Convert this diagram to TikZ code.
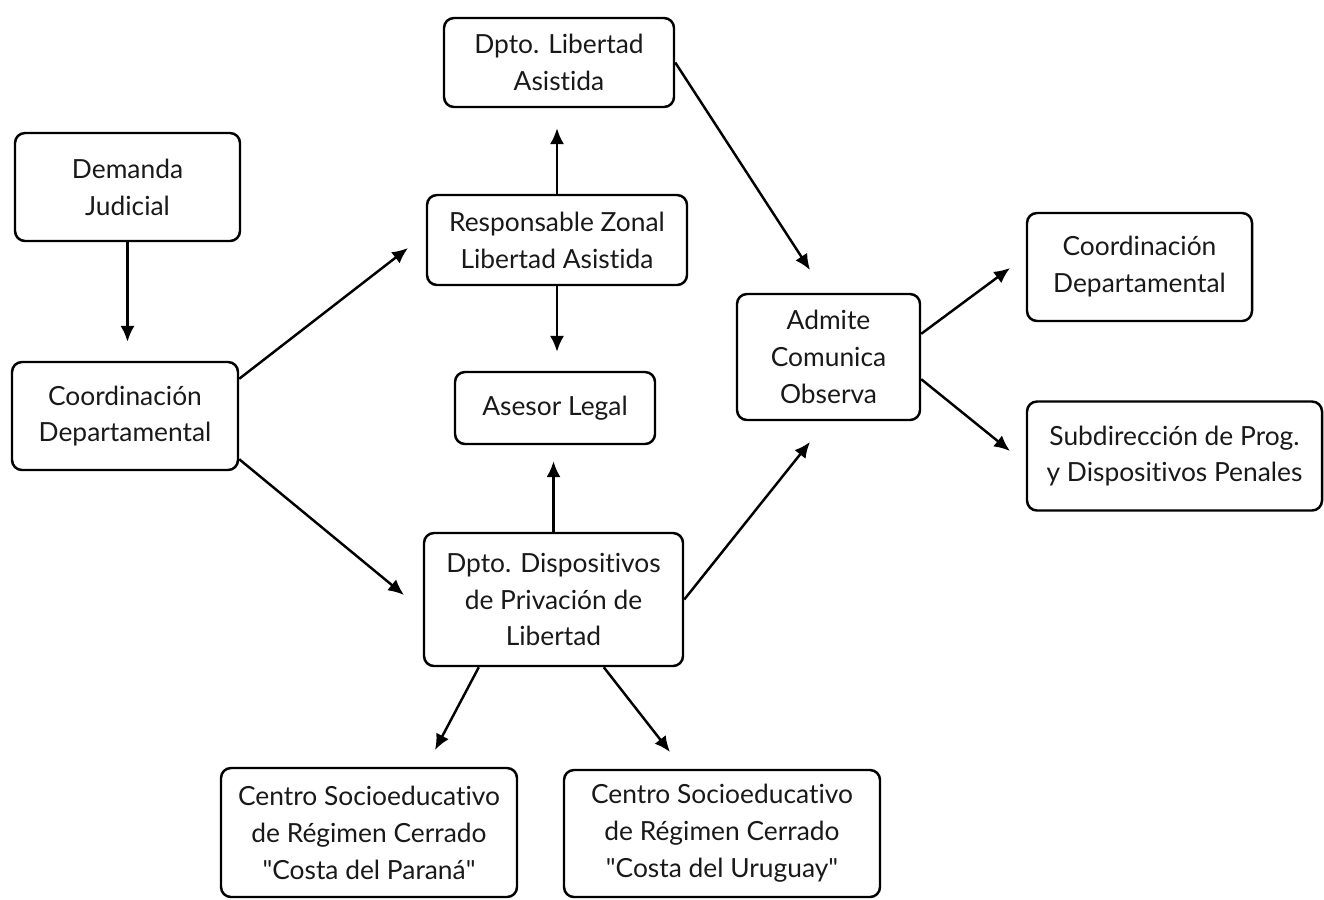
\documentclass[tikz,border=0pt]{standalone}
\usepackage{fontspec}
\setmainfont{Lato}[Ligatures=NoCommon]
\usetikzlibrary{calc,arrows.meta}
\tikzset{
  caja/.style={draw, line width=1.4pt, rounded corners=0.2cm, align=center,
    inner sep=2pt, text=black!90, font=\fontsize{15}{21}\selectfont},
  flecha/.style={line width=1.4pt, -{Latex[length=9pt,width=8pt]}}
}

\begin{document}
\begin{tikzpicture}
			%%%%% START %%%%%
			\useasboundingbox (0,0) rectangle (26.48,-17.98);
			
			\node[caja, minimum width=4.5cm, minimum height=2.16cm] (demanda) at (2.55,-3.74) {Demanda\\Judicial};
			\node[caja, minimum width=4.52cm, minimum height=2.16cm] (coordl) at (2.5,-8.32) {Coordinación\\Departamental};
			
			\node[caja, minimum width=4.6cm, minimum height=1.78cm] (libasis) at (11.18,-1.25) {Dpto. Libertad\\Asistida};
			\node[caja, minimum width=5.2cm, minimum height=1.8cm] (respzonal) at (11.14,-4.8) {Responsable Zonal\\Libertad Asistida};
			\node[caja, minimum width=4.0cm, minimum height=1.44cm] (asesor) at (11.1,-8.16) {Asesor Legal};
			\node[caja, minimum width=5.18cm, minimum height=2.66cm] (dptodisp) at (11.07,-11.99) {Dpto. Dispositivos\\de Privación de\\Libertad};
			
			\node[caja, minimum width=5.92cm, minimum height=2.58cm] (parana) at (7.38,-16.65) {Centro Socioeducativo\\de Régimen Cerrado\\\textquotedbl Costa del Paraná\textquotedbl};
			\node[caja, minimum width=6.32cm, minimum height=2.54cm] (uruguay) at (14.44,-16.67) {Centro Socioeducativo\\de Régimen Cerrado\\\textquotedbl Costa del Uruguay\textquotedbl};
			
			\node[caja, minimum width=3.66cm, minimum height=2.52cm] (admite) at (16.57,-7.14) {Admite\\Comunica\\Observa};
			\node[caja, minimum width=4.5cm, minimum height=2.16cm] (coordr) at (22.79,-5.34) {Coordinación\\Departamental};
			\node[caja, minimum width=5.9cm, minimum height=2.18cm] (subdir) at (23.49,-9.12) {Subdirección de Prog.\\y Dispositivos Penales};
			
			% puntas libres de las flechas
			\coordinate (fRZ) at (8.16,-4.96);
			\coordinate (fDD) at (8.08,-11.9);
			\coordinate (fAd1) at (16.2,-5.4);
			\coordinate (fAd2) at (16.2,-8.84);
			\coordinate (fCR) at (20.2,-5.36);
			\coordinate (fSub) at (20.2,-9.02);
			\coordinate (fPa) at (8.7,-15.0);
			\coordinate (fUr) at (13.4,-15.04);
			
			\draw[flecha, shorten >=0.38cm] (demanda.south) -- (demanda.south |- coordl.north);
			\draw[flecha] ($(coordl.north east)+(0,-0.36)$) -- (fRZ);
			\draw[flecha] ($(coordl.south east)+(0,0.24)$) -- (fDD);
			
			\draw[flecha, shorten >=0.4cm] (respzonal.north) -- (respzonal.north |- libasis.south);
			\draw[flecha, shorten >=0.38cm] (respzonal.south) -- (respzonal.south |- asesor.north);
			\draw[flecha, shorten >=0.32cm] (dptodisp.north) -- (dptodisp.north |- asesor.south);
			
			\draw[flecha] (libasis.east) -- (fAd1);
			\draw[flecha] (dptodisp.east) -- (fAd2);
			\draw[flecha] ($(admite.north east)+(0,-0.82)$) -- (fCR);
			\draw[flecha] ($(admite.south east)+(0,0.84)$) -- (fSub);
			
			\draw[flecha] ($(dptodisp.south west)+(1.12,0)$) -- (fPa);
			\draw[flecha] ($(dptodisp.south west)+(3.62,0)$) -- (fUr);
			%%%%% END %%%%%
\end{tikzpicture}
\end{document}
